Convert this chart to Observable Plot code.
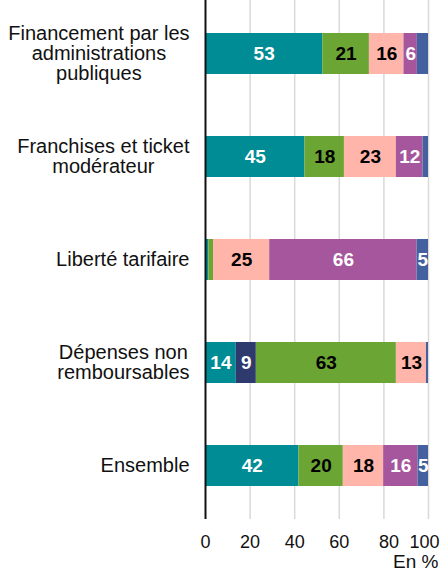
<!DOCTYPE html>
<html><head><meta charset="utf-8">
<script src="https://cdn.jsdelivr.net/npm/d3@7"></script>
<script src="https://cdn.jsdelivr.net/npm/@observablehq/plot@0.6"></script>
<style>html,body{margin:0;padding:0;background:#fff}</style>
</head><body><div id="chart"></div>
<script>
// ---- data ----
const categories = [
  "Financement par les\nadministrations\npubliques",
  "Franchises et ticket\nmodérateur",
  "Liberté tarifaire",
  "Dépenses non\nremboursables",
  "Ensemble"
];
const seriesNames = ["s1", "s2", "s3", "s4", "s5", "s6"];
const s1Values = [52.6, 44.6, 1.5, 13.8, 41.9];
const s2Values = [0, 0, 0, 9.0, 0];
const s3Values = [20.9, 17.7, 2.1, 62.8, 19.9];
const s4Values = [15.5, 23.3, 25.2, 13.5, 18.1];
const s5Values = [6.0, 12.0, 66.1, 0, 15.4];
const s6Values = [5.0, 2.4, 5.1, 0.9, 4.7];
const s1Labels = ["53", "45", null, "14", "42"];
const s2Labels = [null, null, null, "9", null];
const s3Labels = ["21", "18", null, "63", "20"];
const s4Labels = ["16", "23", "25", "13", "18"];
const s5Labels = ["6", "12", "66", null, "16"];
const s6Labels = [null, null, "5", null, "5"];
const xTicks = [0, 20, 40, 60, 80, 100];
const xLabel = "En %";

// ---- styles ----
const colors = ["#008C95", "#2E3A6E", "#6BA534", "#FFB5A9", "#A5569D", "#44609E"];
const inks = ["white", "white", "black", "black", "white", "white"];
const FONT = "'Liberation Sans', Arial, Helvetica, sans-serif";

const allValues = [s1Values, s2Values, s3Values, s4Values, s5Values, s6Values];
const allLabels = [s1Labels, s2Labels, s3Labels, s4Labels, s5Labels, s6Labels];

const rows = [];
categories.forEach((c, i) => {
  let acc = 0;
  seriesNames.forEach((s, k) => {
    const v = allValues[k][i];
    rows.push({cat: c, series: s, x1: acc, x2: acc + v, mid: acc + v / 2, label: allLabels[k][i], ink: inks[k]});
    acc += v;
  });
});

// measure category label blocks
const ctx = document.createElement("canvas").getContext("2d");
const CAT_FS = 20;
ctx.font = `${CAT_FS}px 'Liberation Sans', Arial, sans-serif`;
const blockWidth = c => d3.max(c.split("\n"), l => ctx.measureText(l).width);

const catMarks = categories.map(c => Plot.text([c], {
  y: d => d, frameAnchor: "left", dx: -(16 + blockWidth(c) / 2),
  textAnchor: "middle", lineAnchor: "middle", fontSize: CAT_FS, lineHeight: 1.0, fill: "#111"
}));

const tickGroups = [
  {ticks: xTicks.filter(t => t <= 60), dx: 0},
  {ticks: xTicks.filter(t => t === 80), dx: 5},
  {ticks: xTicks.filter(t => t === 100), dx: -4}
];

const chart = Plot.plot({
  width: 445, height: 571,
  marginLeft: 205, marginRight: 17, marginTop: 0, marginBottom: 52,
  style: {fontFamily: FONT, fontSize: "18px", background: "#fff", color: "#111"},
  x: {domain: [0, 100], axis: null},
  y: {domain: categories, axis: null, paddingInner: 0.6, paddingOuter: 0.3},
  color: {domain: seriesNames, range: colors},
  marks: [
    Plot.gridX(xTicks.filter(t => t > 0), {stroke: "#d9d9d9", strokeOpacity: 1, strokeWidth: 1.5}),
    Plot.barX(rows, {x1: "x1", x2: "x2", y: "cat", fill: "series"}),
    Plot.ruleX([0], {stroke: "#111", strokeWidth: 2}),
    Plot.text(rows.filter(d => d.label && d.ink === "white"), {x: "mid", y: "cat", text: "label", fill: "white", fontWeight: "bold", fontSize: 19}),
    Plot.text(rows.filter(d => d.label && d.ink === "black"), {x: "mid", y: "cat", text: "label", fill: "black", fontWeight: "bold", fontSize: 19}),
    ...tickGroups.map(g => Plot.axisX(g.ticks, {tickSize: 0, tickPadding: 16, fontSize: 18, dx: g.dx, label: null, fill: "#111"})),
    Plot.text([xLabel], {frameAnchor: "bottom-right", dx: 10, dy: 42, textAnchor: "end", lineAnchor: "middle", fontSize: 19, fill: "#111"}),
    ...catMarks
  ]
});
document.getElementById("chart").append(chart);
</script>
</body></html>
